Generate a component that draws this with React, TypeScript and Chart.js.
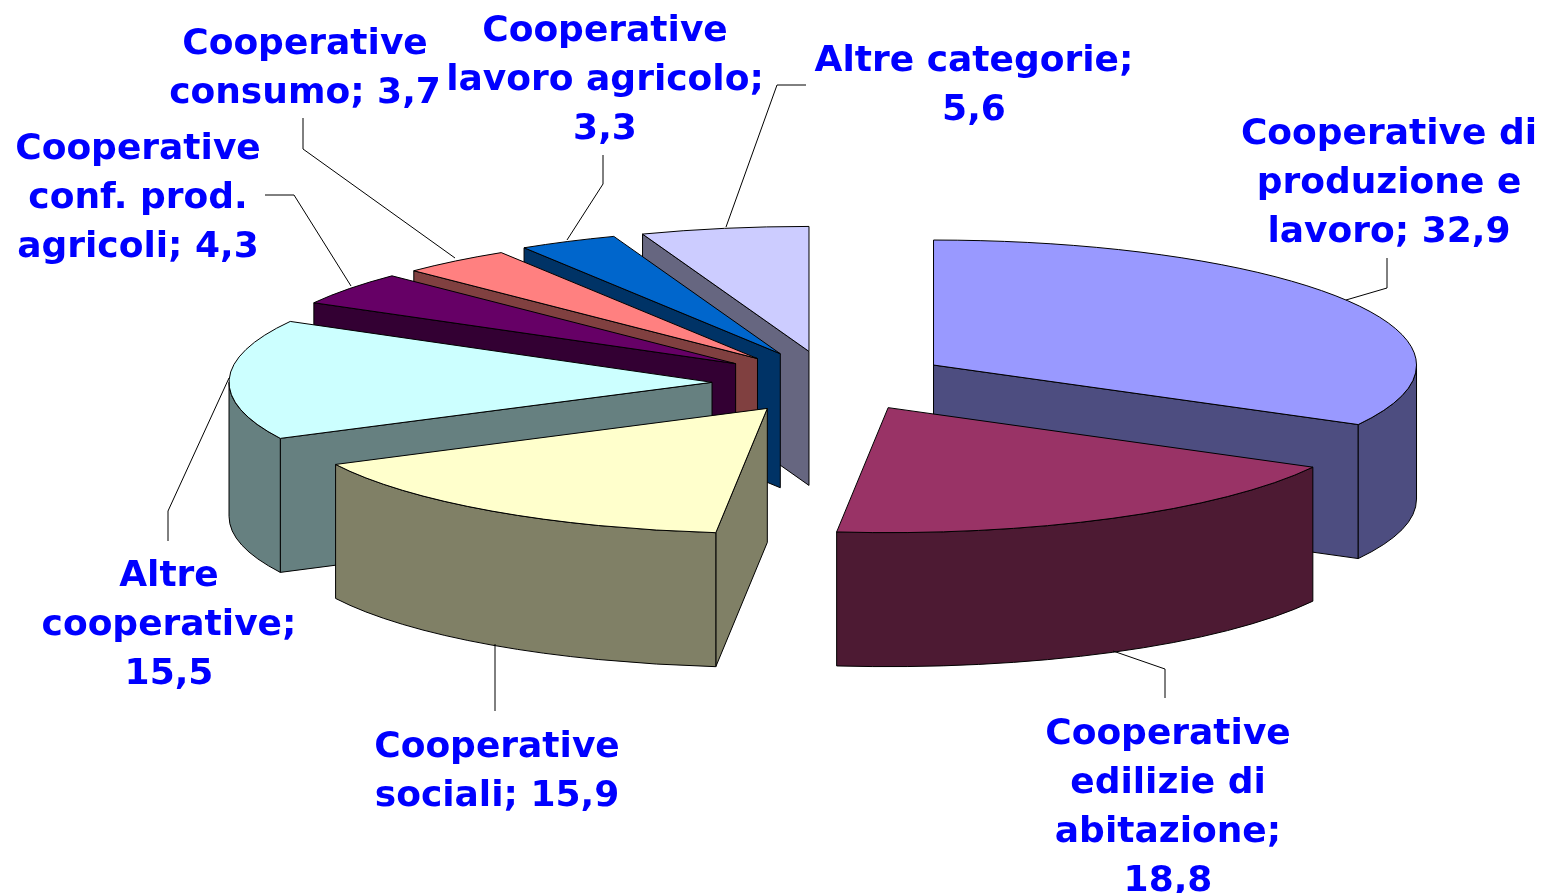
import React, { useEffect, useRef } from "react";
import { Chart, registerables } from "chart.js";

Chart.register(...registerables);

const categories = [
  "Cooperative di produzione e lavoro",
  "Cooperative edilizie di abitazione",
  "Cooperative sociali",
  "Altre cooperative",
  "Cooperative conf. prod. agricoli",
  "Cooperative consumo",
  "Cooperative lavoro agricolo",
  "Altre categorie",
];
const shareValues = [32.9, 18.8, 15.9, 15.5, 4.3, 3.7, 3.3, 5.6];
const sliceOffsets = [482, 500, 440, 472, 472, 464, 452, 480];
const sliceLift = [-1, -3, 3, 1, 0, 0, -2, 0];
const topColors = ["#9999FF", "#993366", "#FFFFCC", "#CCFFFF", "#660066", "#FF8080", "#0066CC", "#CCCCFF"];
const wallColors = ["#4D4D80", "#4D1A33", "#808066", "#668080", "#330033", "#804040", "#003366", "#666680"];
const labelLines = [
  ["Cooperative di", "produzione e", "lavoro; 32,9"],
  ["Cooperative", "edilizie di", "abitazione;", "18,8"],
  ["Cooperative", "sociali; 15,9"],
  ["Altre", "cooperative;", "15,5"],
  ["Cooperative", "conf. prod.", "agricoli; 4,3"],
  ["Cooperative", "consumo; 3,7"],
  ["Cooperative", "lavoro agricolo;", "3,3"],
  ["Altre categorie;", "5,6"],
];
// label centre x, first-baseline y
const labelAnchors = [
  [1389, 144], [1168, 744], [497, 757], [169, 586], [138, 159], [305, 54], [605, 41], [974, 71],
];
// leader polylines (label side to slice edge)
const leaders = [
  [[1387, 258], [1387, 288], [1346, 300]],
  [[1165, 698], [1165, 669], [1113, 651]],
  [[495, 711], [495, 644]],
  [[168, 541], [168, 511], [229, 378]],
  [[265, 195], [294, 195], [351, 286]],
  [[303, 118], [303, 149], [455, 258]],
  [[603, 155], [603, 184], [567, 240]],
  [[806, 85], [777, 85], [726, 227]],
];
const PAINT_ORDER = [7, 6, 5, 4, 3, 0, 2, 1];
const TILT = 0.2588;
const DEPTH = 134;

const pie3d = {
  id: "pie3d",
  beforeDatasetsDraw(chart: any) {
    const ctx = chart.ctx;
    const arcs = chart.getDatasetMeta(0).data;
    ctx.save();
    ctx.lineWidth = 1;
    ctx.strokeStyle = "#000";
    ctx.lineJoin = "round";
    for (const i of PAINT_ORDER) {
      const a = arcs[i];
      const { x, y, startAngle, endAngle, outerRadius } = a.getProps(["x", "y", "startAngle", "endAngle", "outerRadius"], true);
      const off = (a.options.offset || 0) / 4;
      const mid = (startAngle + endAngle) / 2;
      const cx = x + Math.cos(mid) * off;
      const cy = y + Math.sin(mid) * off * TILT + sliceLift[i];
      const rx = outerRadius;
      const ry = outerRadius * TILT;
      const px = (t: number) => cx + rx * Math.cos(t);
      const py = (t: number) => cy + ry * Math.sin(t);

      // radial walls that face the viewer
      ctx.fillStyle = wallColors[i];
      const radial: number[] = [];
      if (-Math.cos(startAngle) > 1e-6) radial.push(startAngle);
      if (Math.cos(endAngle) > 1e-6) radial.push(endAngle);
      for (const t of radial) {
        ctx.beginPath();
        ctx.moveTo(cx, cy);
        ctx.lineTo(px(t), py(t));
        ctx.lineTo(px(t), py(t) + DEPTH);
        ctx.lineTo(cx, cy + DEPTH);
        ctx.closePath();
        ctx.fill();
        ctx.stroke();
      }
      // outer wall, the front-facing part only
      const twoPi = Math.PI * 2;
      for (let n = -1; n <= 2; n++) {
        const s = Math.max(startAngle, twoPi * n);
        const e = Math.min(endAngle, twoPi * n + Math.PI);
        if (e <= s) continue;
        ctx.beginPath();
        ctx.ellipse(cx, cy, rx, ry, 0, s, e);
        ctx.lineTo(px(e), py(e) + DEPTH);
        ctx.ellipse(cx, cy + DEPTH, rx, ry, 0, e, s, true);
        ctx.closePath();
        ctx.fill();
        ctx.stroke();
      }
      // top face
      ctx.fillStyle = a.options.backgroundColor;
      ctx.beginPath();
      ctx.moveTo(cx, cy);
      ctx.ellipse(cx, cy, rx, ry, 0, startAngle, endAngle);
      ctx.closePath();
      ctx.fill();
      ctx.stroke();
    }
    ctx.restore();
    return false;
  },
  afterDraw(chart: any) {
    const ctx = chart.ctx;
    ctx.save();
    ctx.strokeStyle = "#000";
    ctx.lineWidth = 1;
    for (const path of leaders) {
      ctx.beginPath();
      path.forEach(([x, y], j) => (j ? ctx.lineTo(x, y) : ctx.moveTo(x, y)));
      ctx.stroke();
    }
    ctx.fillStyle = "#0000FF";
    ctx.font = 'bold 36px "DejaVu Sans"';
    ctx.textAlign = "center";
    ctx.textBaseline = "alphabetic";
    labelLines.forEach((lines, i) => {
      const [x, y] = labelAnchors[i];
      lines.forEach((s, j) => ctx.fillText(s, x, y + j * 49));
    });
    ctx.restore();
  },
};

export default function App() {
  const ref = useRef<HTMLCanvasElement>(null);
  useEffect(() => {
    document.body.style.margin = "0";
    document.body.style.background = "#fff";
    const chart = new Chart(ref.current!, {
      type: "pie",
      data: {
        labels: categories,
        datasets: [{ data: shareValues, backgroundColor: topColors, offset: sliceOffsets, borderWidth: 0 }],
      },
      options: {
        responsive: false,
        animation: false,
        radius: 483,
        layout: { padding: { left: 117, bottom: 129 } },
        plugins: { legend: { display: false }, tooltip: { enabled: false } },
      } as any,
      plugins: [pie3d],
    });
    return () => chart.destroy();
  }, []);
  return <canvas ref={ref} width={1543} height={893} style={{ display: "block" }} />;
}
